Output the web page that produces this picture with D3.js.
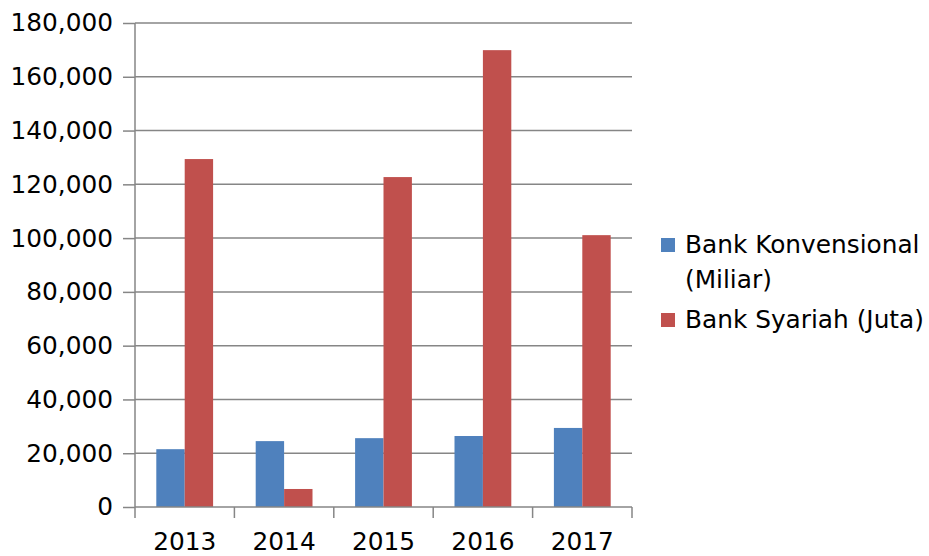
<!DOCTYPE html>
<html><head><meta charset="utf-8">
<script src="https://cdn.jsdelivr.net/npm/d3@7"></script>
<style>
body{margin:0;background:#fff;}
svg{display:block;font-family:"DejaVu Sans",sans-serif;}
</style></head>
<body>
<svg id="c" width="929" height="556"></svg>
<script>
const categories = ["2013","2014","2015","2016","2017"];
const seriesNames = ["Bank Konvensional (Miliar)","Bank Syariah (Juta)"];
const konvensional = [21500, 24500, 25600, 26400, 29400];
const syariah = [129400, 6700, 122700, 169900, 101100];
const yTicks = [0,20000,40000,60000,80000,100000,120000,140000,160000,180000];
const colors = ["#4F81BD","#C0504D"];

const FS = 24.8;
const svg = d3.select("#c");
const pL = 135, pR = 632, pT = 23, pB = 507;
const x = d3.scaleBand().domain(categories).range([pL,pR]).paddingInner(0).paddingOuter(0);
const y = d3.scaleLinear().domain([0,180000]).range([pB,pT]);
const bw = x.bandwidth()/3.5;
const data = categories.map((c,i)=>({c, v:[konvensional[i], syariah[i]]}));

// gridlines
svg.append("g").selectAll("line").data(yTicks.filter(t=>t>0)).join("line")
  .attr("x1",pL).attr("x2",pR).attr("y1",d=>y(d)).attr("y2",d=>y(d))
  .attr("stroke","#868686").attr("stroke-width",1.5);

// bars
const g = svg.append("g");
data.forEach(d=>{
  d.v.forEach((v,j)=>{
    const x0 = x(d.c) + x.bandwidth()/2 - bw + j*bw;
    g.append("rect").attr("x",x0).attr("width",bw)
      .attr("y",y(v)).attr("height",y(0)-y(v)).attr("fill",colors[j]);
  });
});

// y axis
const yAxis = d3.axisLeft(y).tickValues(yTicks).tickSize(12).tickPadding(10)
  .tickFormat(d3.format(","));
const ya = svg.append("g").attr("transform",`translate(${pL},0)`).call(yAxis);
ya.select(".domain").attr("stroke","#868686").attr("stroke-width",1.5).attr("d",`M0,${pT}V${pB}`);
ya.selectAll(".tick line").attr("stroke","#868686").attr("stroke-width",1.5);
ya.selectAll("text").attr("font-size",FS).attr("fill","#000").attr("font-family","DejaVu Sans");

// x axis
const xAxis = d3.axisBottom(x).tickSize(0).tickPadding(25);
const xa = svg.append("g").attr("transform",`translate(0,${pB})`).call(xAxis);
xa.select(".domain").attr("stroke","#868686").attr("stroke-width",1.5).attr("d",`M${pL},0H${pR}`);
xa.selectAll("text").attr("font-size",FS).attr("fill","#000").attr("font-family","DejaVu Sans");
const bounds = categories.map(c=>x(c)).concat([pR]);
xa.selectAll(".xt").data(bounds).join("line").attr("class","xt")
  .attr("x1",d=>d).attr("x2",d=>d).attr("y1",0).attr("y2",11)
  .attr("stroke","#868686").attr("stroke-width",1.5);

// legend
const leg = svg.append("g").attr("font-size",FS).attr("fill","#000");
const legItems = [
  {lines:["Bank Konvensional","(Miliar)"], color:colors[0], y:253},
  {lines:["Bank Syariah (Juta)"], color:colors[1], y:328}
];
legItems.forEach(it=>{
  leg.append("rect").attr("x",661).attr("y",it.y-15).attr("width",14).attr("height",14).attr("fill",it.color);
  it.lines.forEach((l,k)=>{
    leg.append("text").attr("x",685).attr("y",it.y+k*35).text(l);
  });
});
</script>
</body></html>
